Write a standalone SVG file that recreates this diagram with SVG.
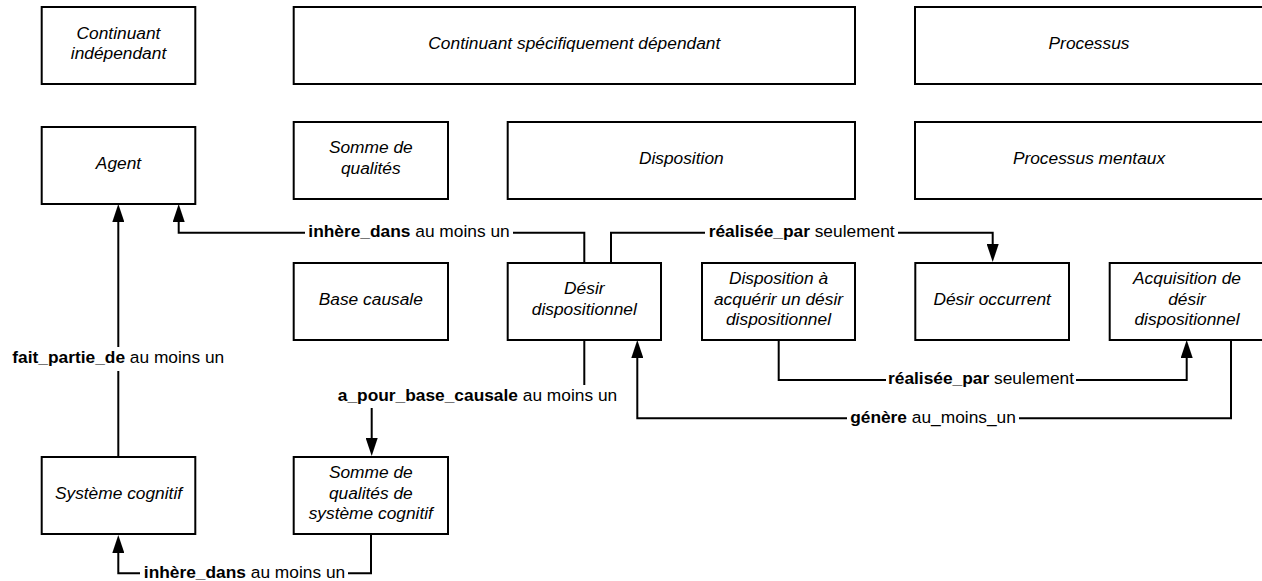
<svg xmlns="http://www.w3.org/2000/svg" width="1262" height="581" viewBox="0 0 1262 581">
<style>
.box{fill:#fff;stroke:#000;stroke-width:2}
.nt{font-family:"Liberation Sans",Arial,sans-serif;font-size:17.33px;font-style:italic;fill:#000;text-anchor:middle}
.lt{font-family:"Liberation Sans",Arial,sans-serif;font-size:17.33px;fill:#000;text-anchor:middle}
.lt tspan.b{font-weight:bold}
.ln{fill:none;stroke:#000;stroke-width:2}
.bg{fill:#fff}
</style>
<defs>
<marker id="arr" viewBox="0 0 18 12" refX="1" refY="6" markerWidth="18" markerHeight="12" markerUnits="userSpaceOnUse" orient="auto">
<path d="M0,0 L18,6 L0,12 z" fill="#000"/>
</marker>
</defs>
<rect width="1262" height="581" fill="#fff"/>
<g id="connectors">
<path class="ln" d="M118.3,456 V221" marker-end="url(#arr)"/>
<path class="ln" d="M584.3,262 V232.7 H178.7 V221" marker-end="url(#arr)"/>
<path class="ln" d="M611,262 V232.7 H992.7 V245" marker-end="url(#arr)"/>
<path class="ln" d="M584.3,340 V396.5 H371.7 V439" marker-end="url(#arr)"/>
<path class="ln" d="M778.7,340 V380 H1186.7 V357" marker-end="url(#arr)"/>
<path class="ln" d="M1231,340 V418.3 H637.3 V357" marker-end="url(#arr)"/>
<path class="ln" d="M371,534.7 V573.3 H118.3 V552" marker-end="url(#arr)"/>
<rect class="bg" x="10" y="347" width="217" height="24"/>
<text class="lt" x="118.3" y="363"><tspan class="b">fait_partie_de</tspan> au moins un</text>
<rect class="bg" x="305" y="222" width="208" height="22"/>
<text class="lt" x="409" y="236.9"><tspan class="b">inhère_dans</tspan> au moins un</text>
<rect class="bg" x="705" y="222" width="193" height="22"/>
<text class="lt" x="801.7" y="236.9"><tspan class="b">réalisée_par</tspan> seulement</text>
<rect class="bg" x="334" y="385" width="287" height="23"/>
<text class="lt" x="477.5" y="400.7"><tspan class="b">a_pour_base_causale</tspan> au moins un</text>
<rect class="bg" x="886" y="369" width="190" height="22"/>
<text class="lt" x="981" y="384.2"><tspan class="b">réalisée_par</tspan> seulement</text>
<rect class="bg" x="847" y="407" width="172" height="22"/>
<text class="lt" x="933" y="422.5"><tspan class="b">génère</tspan> au_moins_un</text>
<rect class="bg" x="140" y="562" width="208" height="22"/>
<text class="lt" x="244.5" y="577.5"><tspan class="b">inhère_dans</tspan> au moins un</text>
</g>
<g id="n1"><rect class="box" x="41.7" y="7" width="153.6" height="77"/><text class="nt" x="118.5" y="38.9">Continuant</text><text class="nt" x="118.5" y="59.4">indépendant</text></g>
<g id="n2"><rect class="box" x="293.7" y="7" width="561.3" height="77"/><text class="nt" x="574.3" y="48.6">Continuant spécifiquement dépendant</text></g>
<g id="n3"><rect class="box" x="915" y="7" width="350" height="77"/><text class="nt" x="1089" y="48.6">Processus</text></g>
<g id="n4"><rect class="box" x="41.7" y="127" width="153.6" height="77"/><text class="nt" x="118.5" y="168.6">Agent</text></g>
<g id="n5"><rect class="box" x="293.7" y="122" width="154.3" height="77"/><text class="nt" x="370.8" y="153.4">Somme de</text><text class="nt" x="370.8" y="173.9">qualités</text></g>
<g id="n6"><rect class="box" x="507.7" y="122" width="347.3" height="77"/><text class="nt" x="681.3" y="163.6">Disposition</text></g>
<g id="n7"><rect class="box" x="915" y="122" width="350" height="77"/><text class="nt" x="1089" y="163.6">Processus mentaux</text></g>
<g id="n8"><rect class="box" x="293.7" y="263" width="154.3" height="77"/><text class="nt" x="370.8" y="304.6">Base causale</text></g>
<g id="n9"><rect class="box" x="507.7" y="263" width="153.3" height="77"/><text class="nt" x="584.3" y="294.4">Désir</text><text class="nt" x="584.3" y="314.9">dispositionnel</text></g>
<g id="n10"><rect class="box" x="702" y="263" width="153" height="77"/><text class="nt" x="778.5" y="284.1">Disposition à</text><text class="nt" x="778.5" y="304.6">acquérir un désir</text><text class="nt" x="778.5" y="325.1">dispositionnel</text></g>
<g id="n11"><rect class="box" x="915.3" y="263" width="153.7" height="77"/><text class="nt" x="992.2" y="304.6">Désir occurrent</text></g>
<g id="n12"><rect class="box" x="1109.7" y="263" width="155" height="77"/><text class="nt" x="1187" y="284.1">Acquisition de</text><text class="nt" x="1187" y="304.6">désir</text><text class="nt" x="1187" y="325.1">dispositionnel</text></g>
<g id="n13"><rect class="box" x="41.7" y="457" width="153.6" height="77"/><text class="nt" x="118.5" y="498.6">Système cognitif</text></g>
<g id="n14"><rect class="box" x="293.7" y="457" width="154.3" height="77"/><text class="nt" x="370.8" y="478.1">Somme de</text><text class="nt" x="370.8" y="498.6">qualités de</text><text class="nt" x="370.8" y="519.1">système cognitif</text></g>
</svg>
